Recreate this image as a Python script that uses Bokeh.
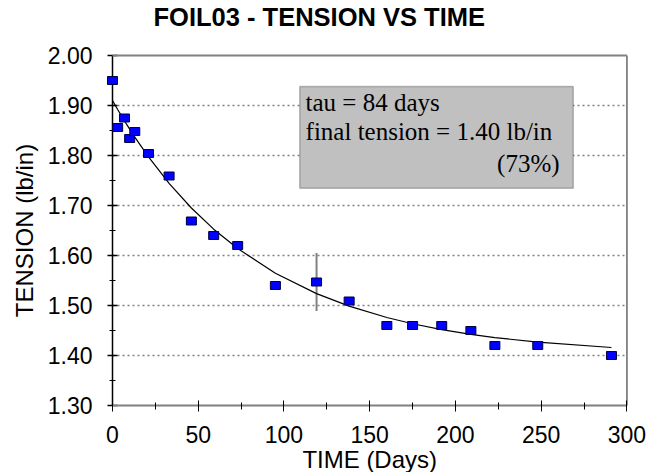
import math

from bokeh.embed import file_html
from bokeh.models import (BoxAnnotation, FixedTicker, Label, LinearAxis,
                          PrintfTickFormatter, Range1d)
from bokeh.plotting import figure
from bokeh.resources import INLINE

# Measured foil tension over time
days = [0, 3, 7, 10, 13, 21, 33, 46, 59, 73, 95, 119, 138, 160, 175, 192, 209, 223, 248, 291]
tension = [1.950, 1.856, 1.875, 1.834, 1.848, 1.804, 1.759, 1.669, 1.640, 1.620,
           1.540, 1.547, 1.509, 1.460, 1.460, 1.460, 1.450, 1.420, 1.420, 1.400]

# Uncertainty shown on one reading
err_day = 119
err_half = 0.058

# Exponential relaxation fit parameters
tau_days = 84
final_tension = 1.40
initial_tension = 1.91

x_ticks = [0, 50, 100, 150, 200, 250, 300]
x_minor = [25, 75, 125, 175, 225, 275]
y_ticks = [1.30, 1.40, 1.50, 1.60, 1.70, 1.80, 1.90, 2.00]
y_minor = [1.35, 1.45, 1.55, 1.65, 1.75, 1.85, 1.95]
grid_levels = [1.40, 1.50, 1.60, 1.70, 1.80, 1.90]

title_text = "FOIL03 - TENSION VS TIME"
x_label = "TIME (Days)"
y_label = "TENSION (lb/in)"

fit = [final_tension + (initial_tension - final_tension) * math.exp(-t / tau_days) for t in days]
pct = round(100 * final_tension / initial_tension)

x0, x1 = x_ticks[0], x_ticks[-1]
y0, y1 = y_ticks[0], y_ticks[-1]

SANS = "Liberation Sans"
SERIF = "Liberation Serif"

# The data frame fills the whole canvas; the axes sit at fixed data positions
# so titles and tick labels can live around the 0-300 x 1.30-2.00 area.
p = figure(width=652, height=472, output_backend="svg", toolbar_location=None,
           x_range=Range1d(-65.32, 314.92), y_range=Range1d(1.166, 2.11),
           x_axis_location=None, y_axis_location=None, min_border=0)
p.background_fill_color = "white"
p.border_fill_color = "white"
p.outline_line_color = None
p.xgrid.visible = False
p.ygrid.visible = False

# Horizontal axis
xa = LinearAxis(fixed_location=y0, bounds=(x0, x1),
                ticker=FixedTicker(ticks=x_ticks, minor_ticks=x_minor))
xa.axis_line_color = "#808080"
xa.axis_line_width = 2
xa.major_tick_line_color = "black"
xa.minor_tick_line_color = "black"
xa.major_tick_in = 5
xa.major_tick_out = 6
xa.minor_tick_in = 3
xa.minor_tick_out = 4
xa.major_label_standoff = 14
p.add_layout(xa, "below")

# Vertical axis
ya = LinearAxis(fixed_location=x0, bounds=(y0, y1),
                ticker=FixedTicker(ticks=y_ticks, minor_ticks=y_minor),
                formatter=PrintfTickFormatter(format="%.2f"))
ya.axis_line_color = "black"
ya.axis_line_width = 1.5
ya.major_tick_line_color = "black"
ya.minor_tick_line_color = "black"
ya.major_tick_line_width = 1.5
ya.major_tick_in = 5
ya.major_tick_out = 5
ya.minor_tick_in = 3
ya.minor_tick_out = 3
ya.major_label_standoff = 15
ya.level = "underlay"
p.add_layout(ya, "left")

for ax in (xa, ya):
    ax.major_label_text_font = SANS
    ax.major_label_text_font_size = "23px"
    ax.major_label_text_color = "black"

# Title and axis titles
p.add_layout(Label(x=23.9, y=2.0766, text=title_text, text_font=SANS, text_font_size="25.5px",
                   text_font_style="bold", text_align="left", text_baseline="alphabetic",
                   text_color="black"))
p.add_layout(Label(x=150, y=1.192, text=x_label, text_font=SANS, text_font_size="24px",
                   text_align="center", text_baseline="alphabetic", text_color="black"))
p.add_layout(Label(x=-51.5, y=1.65, text=y_label, text_font=SANS, text_font_size="24px",
                   angle=math.pi / 2, text_align="center", text_baseline="alphabetic",
                   text_color="black"))

# Dotted horizontal gridlines
n = len(grid_levels)
p.segment(x0=[x0] * n, y0=grid_levels, x1=[x1] * n, y1=grid_levels,
          line_color="#808080", line_dash="2 3", line_width=1.5, level="underlay")

# Top and right borders of the plot area
p.segment(x0=[x0, x1], y0=[y1, y0], x1=[x1, x1], y1=[y1, y1],
          line_color="#808080", line_width=1.8)

# Error bar on the single reading
err_val = tension[days.index(err_day)]
p.segment(x0=[err_day], y0=[err_val - err_half], x1=[err_day], y1=[err_val + err_half],
          line_color="#808080", line_width=2)

# Fitted relaxation curve
p.line(days, fit, line_color="black", line_width=1.2)

# Measurements
p.rect(x=days, y=tension, width=10, height=8, width_units="screen", height_units="screen",
       fill_color="#0000FF", line_color="#000040", line_width=1)

# Fit summary box
p.add_layout(BoxAnnotation(left=109.2, right=268.7, top=1.938, bottom=1.7346,
                           fill_color="#C0C0C0", fill_alpha=1.0,
                           line_color="#333333", line_width=1.5))
box_text = [
    (112.6, 1.9066, f"tau = {tau_days} days", "left"),
    (112.6, 1.848, f"final tension = {final_tension:.2f} lb/in", "left"),
    (260.7, 1.785, f"({pct}%)", "right"),
]
for x, y, txt, align in box_text:
    p.add_layout(Label(x=x, y=y, text=txt, text_font=SERIF, text_font_size="25px",
                       text_align=align, text_baseline="alphabetic", text_color="black"))

open("out.html", "w").write(file_html(p, INLINE))
